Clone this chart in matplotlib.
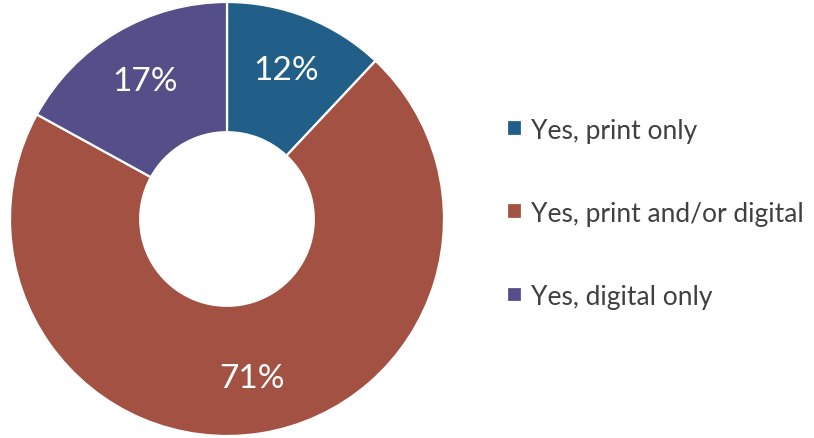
import matplotlib
matplotlib.use("Agg")
import matplotlib.pyplot as plt

plt.rcParams["font.family"] = ["Lato", "DejaVu Sans"]

labels = ["Yes, print only", "Yes, print and/or digital", "Yes, digital only"]
shares = [12, 71, 17]
colors = ["#215F89", "#A35142", "#544F88"]

fig = plt.figure(figsize=(8.14, 4.39), dpi=100)
ax = fig.add_axes([10 / 814, 2 / 439, 434 / 814, 434 / 439])
wedges, texts, autotexts = ax.pie(
    shares, colors=colors, startangle=90, counterclock=False,
    autopct="%d%%", pctdistance=0.74,
    wedgeprops=dict(width=0.6, edgecolor="white", linewidth=1.6),
    textprops=dict(color="white", fontsize=24),
)
ax.set_aspect("equal")
ax.set_xlim(-1, 1)
ax.set_ylim(-1, 1)

fig.legend(wedges, labels, loc="center left", bbox_to_anchor=(494 / 814, 0.512),
           frameon=False, fontsize=19, labelcolor="#404040",
           handlelength=0.55, handleheight=0.55, handletextpad=0.35,
           labelspacing=2.2, borderaxespad=0.3, borderpad=0.2)

fig.savefig("out.png", dpi=100, facecolor="white")
